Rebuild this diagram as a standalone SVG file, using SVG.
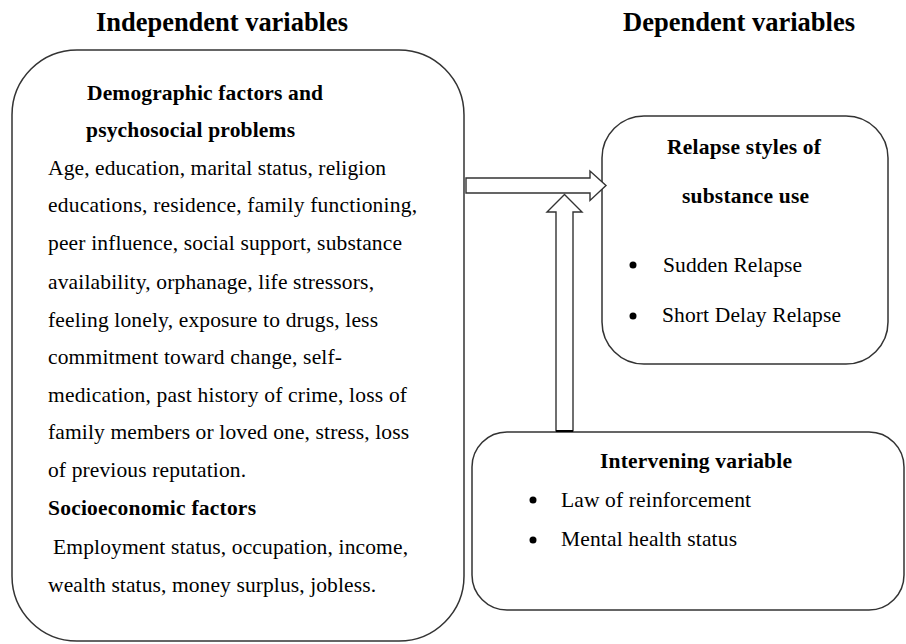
<svg xmlns="http://www.w3.org/2000/svg" width="906" height="644" viewBox="0 0 906 644" font-family="'Liberation Serif', 'Times New Roman', Times, serif">
<style>
text{font-family:'Liberation Serif','Times New Roman',Times,serif;fill:#000}
.t{font-size:26.5px;font-weight:bold}
.b{font-size:21.5px;font-weight:bold}
.r{font-size:21.5px}
.box{fill:#fff;stroke:#333;stroke-width:1.5}
.arr{fill:#fff;stroke:#333;stroke-width:1.4;stroke-linejoin:miter}
.dot{fill:#000}
</style>
<rect width="906" height="644" fill="#fff"/>
<text class="t" x="96" y="31" textLength="252" lengthAdjust="spacingAndGlyphs">Independent variables</text>
<text class="t" x="623" y="31" textLength="232" lengthAdjust="spacingAndGlyphs">Dependent variables</text>

<g id="independent">
<rect class="box" x="12" y="50" width="452" height="591" rx="65" ry="65"/>
<text class="b" x="87" y="100" textLength="236" lengthAdjust="spacing">Demographic factors and</text>
<text class="b" x="86" y="137" textLength="209" lengthAdjust="spacing">psychosocial problems</text>
<text class="r" x="48" y="175" textLength="338" lengthAdjust="spacing">Age, education, marital status, religion</text>
<text class="r" x="48" y="212" textLength="369" lengthAdjust="spacing">educations, residence, family functioning,</text>
<text class="r" x="48" y="250" textLength="354" lengthAdjust="spacing">peer influence, social support, substance</text>
<text class="r" x="48" y="289" textLength="326" lengthAdjust="spacing">availability, orphanage, life stressors,</text>
<text class="r" x="48" y="327" textLength="330" lengthAdjust="spacing">feeling lonely, exposure to drugs, less</text>
<text class="r" x="48" y="364" textLength="294" lengthAdjust="spacing">commitment toward change, self-</text>
<text class="r" x="48" y="402" textLength="359" lengthAdjust="spacing">medication, past history of crime, loss of</text>
<text class="r" x="48" y="439" textLength="361" lengthAdjust="spacing">family members or loved one, stress, loss</text>
<text class="r" x="48" y="477" textLength="198" lengthAdjust="spacing">of previous reputation.</text>
<text class="b" x="48" y="515" textLength="208" lengthAdjust="spacing">Socioeconomic factors</text>
<text class="r" x="53" y="554" textLength="355" lengthAdjust="spacing">Employment status, occupation, income,</text>
<text class="r" x="48" y="592" textLength="328" lengthAdjust="spacing">wealth status, money surplus, jobless.</text>
</g>

<g id="relapse">
<rect class="box" x="602" y="116" width="286" height="248" rx="42" ry="42"/>
<text class="b" x="667" y="154" textLength="154" lengthAdjust="spacing">Relapse styles of</text>
<text class="b" x="682" y="203" textLength="127" lengthAdjust="spacing">substance use</text>
<circle class="dot" cx="633" cy="265" r="3.5"/>
<text class="r" x="663" y="272" textLength="139" lengthAdjust="spacing">Sudden Relapse</text>
<circle class="dot" cx="633" cy="316" r="3.5"/>
<text class="r" x="662" y="322" textLength="179" lengthAdjust="spacing">Short Delay Relapse</text>
</g>

<g id="intervening">
<rect class="box" x="472" y="432" width="432" height="178" rx="35" ry="35"/>
<text class="b" x="600" y="468" textLength="192" lengthAdjust="spacing">Intervening variable</text>
<circle class="dot" cx="533" cy="500" r="3.5"/>
<text class="r" x="561" y="507" textLength="190" lengthAdjust="spacing">Law of reinforcement</text>
<circle class="dot" cx="533" cy="540" r="3.5"/>
<text class="r" x="561" y="546" textLength="176" lengthAdjust="spacing">Mental health status</text>
</g>

<g id="connectors">
<polygon class="arr" points="466,178 590,178 590,171 606,185.5 590,200.5 590,193 466,193"/>
<polygon class="arr" points="556,431 556,212 547,212 564.5,194.5 582,212 573,212 573,431"/>
<line x1="556" y1="431" x2="573" y2="431" stroke="#000" stroke-width="2"/>
</g>
</svg>
